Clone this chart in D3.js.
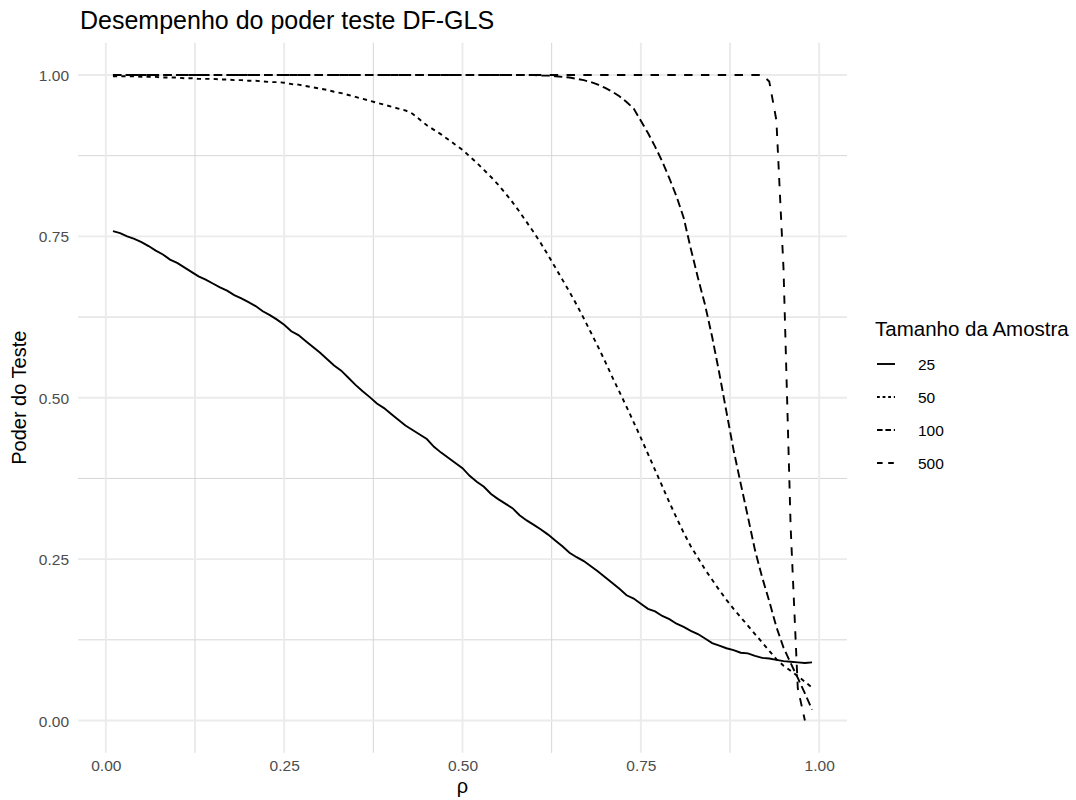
<!DOCTYPE html>
<html>
<head>
<meta charset="utf-8">
<script src="https://cdn.jsdelivr.net/npm/d3@7"></script>
<style>
body { margin: 0; background: #ffffff; }
svg { font-family: "Liberation Sans", Arial, sans-serif; }
</style>
</head>
<body>
<svg id="chart" width="1076" height="800"></svg>
<script>
// rho values (x)
let rho = [0.01,0.02,0.03,0.04,0.05,0.06,0.07,0.08,0.09,0.10,
  0.11,0.12,0.13,0.14,0.15,0.16,0.17,0.18,0.19,0.20,
  0.21,0.22,0.23,0.24,0.25,0.26,0.27,0.28,0.29,0.30,
  0.31,0.32,0.33,0.34,0.35,0.36,0.37,0.38,0.39,0.40,
  0.41,0.42,0.43,0.44,0.45,0.46,0.47,0.48,0.49,0.50,
  0.51,0.52,0.53,0.54,0.55,0.56,0.57,0.58,0.59,0.60,
  0.61,0.62,0.63,0.64,0.65,0.66,0.67,0.68,0.69,0.70,
  0.71,0.72,0.73,0.74,0.75,0.76,0.77,0.78,0.79,0.80,
  0.81,0.82,0.83,0.84,0.85,0.86,0.87,0.88,0.89,0.90,
  0.91,0.92,0.93,0.94,0.95,0.96,0.97,0.98,0.99];

let power25 = [0.758,0.755,0.750,0.746,0.741,0.735,0.728,0.722,0.714,0.709,
  0.702,0.695,0.688,0.683,0.677,0.671,0.666,0.659,0.654,0.648,
  0.642,0.634,0.628,0.621,0.613,0.603,0.597,0.588,0.579,0.570,
  0.560,0.550,0.542,0.531,0.520,0.510,0.501,0.491,0.484,0.475,
  0.466,0.457,0.450,0.443,0.436,0.424,0.415,0.407,0.399,0.391,
  0.379,0.370,0.362,0.351,0.343,0.336,0.329,0.318,0.310,0.303,
  0.296,0.288,0.279,0.270,0.260,0.253,0.247,0.239,0.231,0.222,
  0.213,0.204,0.194,0.189,0.181,0.173,0.169,0.162,0.157,0.150,
  0.145,0.139,0.134,0.127,0.120,0.116,0.112,0.109,0.105,0.104,
  0.100,0.097,0.096,0.094,0.092,0.091,0.090,0.089,0.090];

let power50 = [0.998,0.998,0.998,0.998,0.997,0.997,0.997,0.996,0.996,0.996,
  0.995,0.995,0.994,0.994,0.994,0.993,0.993,0.992,0.992,0.991,
  0.991,0.990,0.989,0.989,0.988,0.986,0.985,0.983,0.981,0.979,
  0.977,0.974,0.972,0.969,0.966,0.963,0.960,0.957,0.954,0.951,
  0.948,0.945,0.940,0.931,0.922,0.915,0.908,0.900,0.892,0.884,
  0.874,0.864,0.853,0.842,0.830,0.817,0.803,0.788,0.772,0.756,
  0.739,0.721,0.702,0.683,0.664,0.644,0.623,0.601,0.579,0.556,
  0.532,0.509,0.486,0.462,0.438,0.413,0.388,0.363,0.338,0.314,
  0.291,0.270,0.252,0.234,0.218,0.202,0.187,0.173,0.160,0.147,
  0.134,0.121,0.108,0.095,0.085,0.077,0.069,0.060,0.051];

let power100 = [1,1,1,1,1,1,1,1,1,1,
  1,1,1,1,1,1,1,1,1,1,
  1,1,1,1,1,1,1,1,1,1,
  1,1,1,1,1,1,1,1,1,1,
  1,1,1,1,1,1,1,1,1,1,
  1,1,1,1,1,1,1,1,1,1,
  0.999,0.999,0.998,0.997,0.996,0.994,0.992,0.989,0.985,0.980,
  0.974,0.967,0.958,0.948,0.929,0.910,0.889,0.866,0.840,0.812,
  0.779,0.731,0.686,0.644,0.594,0.538,0.478,0.419,0.367,0.316,
  0.264,0.222,0.185,0.145,0.113,0.089,0.066,0.042,0.017];

let power500 = [1,1,1,1,1,1,1,1,1,1,
  1,1,1,1,1,1,1,1,1,1,
  1,1,1,1,1,1,1,1,1,1,
  1,1,1,1,1,1,1,1,1,1,
  1,1,1,1,1,1,1,1,1,1,
  1,1,1,1,1,1,1,1,1,1,
  1,1,1,1,1,1,1,1,1,1,
  1,1,1,1,1,1,1,1,1,1,
  1,1,1,1,1,1,1,1,1,1,
  1,1,0.990,0.930,0.700,0.300,0.050,0.000,null];

let seriesNames = ["25","50","100","500"];
let seriesValues = [power25, power50, power100, power500];

let xTicks = [0, 0.25, 0.5, 0.75, 1];
let xMinor = [0.125, 0.375, 0.625, 0.875];
let yTicks = [0, 0.25, 0.5, 0.75, 1];
let yMinor = [0.125, 0.375, 0.625, 0.875];

let titleText = "Desempenho do poder teste DF-GLS";
let xTitle = "\u03c1";
let yTitle = "Poder do Teste";
let legendTitle = "Tamanho da Amostra";

// layout
let drawTarget = "chart";
let panelLeft = 78;
let panelRight = 847;
let panelTop = 42.7;
let panelBottom = 752.8;
let lineColor = "#000000";
let gridColor = "#ebebeb";
let minorColor = "#d6d6d6";
let tickColor = "#4d4d4d";
let lineWidth = 1.9;
let unit = 2.1;
let legendUnit = 1.4;

function dashFor(i, u)
{
  if(i == 0) return "none";
  if(i == 1) return (2*u)+","+(2*u);
  if(i == 2) return (4*u)+","+(2*u);
  return (4*u)+","+(4*u);
}

let svg = d3.select("#"+drawTarget);

// ggplot style 5% expansion
let xLo = d3.min(rho), xHi = d3.max(rho);
let xPad = (xHi - xLo) * 0.05;
let x = d3.scaleLinear()
  .domain([xLo - xPad, xHi + xPad])
  .range([panelLeft, panelRight]);
let y = d3.scaleLinear()
  .domain([-0.05, 1.05])
  .range([panelBottom, panelTop]);

function drawGrid()
{
  let g = svg.append("g");
  g.selectAll(".ymin").data(yMinor).enter().append("line")
    .attr("x1", panelLeft).attr("x2", panelRight)
    .attr("y1", d => y(d)).attr("y2", d => y(d))
    .attr("stroke", minorColor).attr("stroke-width", 1);
  g.selectAll(".xmin").data(xMinor).enter().append("line")
    .attr("y1", panelTop).attr("y2", panelBottom)
    .attr("x1", d => x(d)).attr("x2", d => x(d))
    .attr("stroke", minorColor).attr("stroke-width", 1);
  g.selectAll(".ymaj").data(yTicks).enter().append("line")
    .attr("x1", panelLeft).attr("x2", panelRight)
    .attr("y1", d => y(d)).attr("y2", d => y(d))
    .attr("stroke", gridColor).attr("stroke-width", 1.9);
  g.selectAll(".xmaj").data(xTicks).enter().append("line")
    .attr("y1", panelTop).attr("y2", panelBottom)
    .attr("x1", d => x(d)).attr("x2", d => x(d))
    .attr("stroke", gridColor).attr("stroke-width", 1.9);
}

function drawAxes()
{
  let xAxis = svg.append("g")
    .attr("transform", "translate(0," + panelBottom + ")")
    .call(d3.axisBottom(x).tickValues(xTicks).tickFormat(d3.format(".2f")).tickSize(0).tickPadding(7));
  let yAxis = svg.append("g")
    .attr("transform", "translate(" + panelLeft + ",0)")
    .call(d3.axisLeft(y).tickValues(yTicks).tickFormat(d3.format(".2f")).tickSize(0).tickPadding(9));
  [xAxis, yAxis].forEach(function(a) {
    a.select(".domain").remove();
    a.selectAll("text")
      .attr("fill", tickColor)
      .style("font-size", "15.5px")
      .style("font-family", "\"Liberation Sans\", Arial, sans-serif");
  });
  yAxis.selectAll("text").attr("dy", "0.36em");
}

function drawLines()
{
  for(let i = 0; i < seriesValues.length; i++)
  {
    let pts = rho.map((r, j) => [r, seriesValues[i][j]]);
    let line = d3.line()
      .defined(d => d[1] !== null)
      .x(d => x(d[0]))
      .y(d => y(d[1]));
    svg.append("path")
      .datum(pts)
      .attr("d", line)
      .attr("fill", "none")
      .attr("stroke", lineColor)
      .attr("stroke-width", lineWidth)
      .attr("stroke-dasharray", dashFor(i, unit));
  }
}

function drawText()
{
  svg.append("text")
    .attr("x", panelLeft + 2)
    .attr("y", 29)
    .attr("fill", "#000")
    .style("font-size", "25px")
    .text(titleText);
  svg.append("text")
    .attr("x", (panelLeft + panelRight)/2)
    .attr("y", 793)
    .attr("text-anchor", "middle")
    .attr("fill", "#000")
    .style("font-size", "20px")
    .text(xTitle);
  svg.append("text")
    .attr("transform", "translate(26," + ((panelTop + panelBottom)/2) + ") rotate(-90)")
    .attr("text-anchor", "middle")
    .attr("fill", "#000")
    .style("font-size", "20px")
    .text(yTitle);
}

function drawLegend()
{
  let lx = 875;
  let ly = 336;
  let rowGap = 33;
  svg.append("text")
    .attr("x", lx)
    .attr("y", ly)
    .attr("fill", "#000")
    .style("font-size", "20.5px")
    .text(legendTitle);
  for(let i = 0; i < seriesNames.length; i++)
  {
    let ky = 364 + i*rowGap;
    svg.append("line")
      .attr("x1", lx + 2).attr("x2", lx + 20)
      .attr("y1", ky).attr("y2", ky)
      .attr("stroke", lineColor)
      .attr("stroke-width", lineWidth)
      .attr("stroke-dasharray", dashFor(i, legendUnit));
    svg.append("text")
      .attr("x", lx + 43)
      .attr("y", ky + 5.5)
      .attr("fill", "#000")
      .style("font-size", "15.5px")
      .text(seriesNames[i]);
  }
}

drawGrid();
drawLines();
drawAxes();
drawText();
drawLegend();
</script>
</body>
</html>
